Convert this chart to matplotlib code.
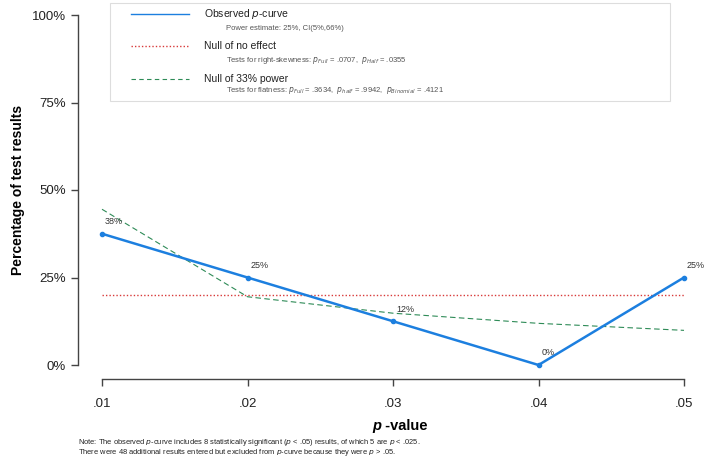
import numpy as np
import matplotlib
matplotlib.use('Agg')
import matplotlib.pyplot as plt
from matplotlib.patches import Rectangle

plt.rcParams['font.family'] = ['Liberation Sans', 'DejaVu Sans']

# datos
pvals = [0.01, 0.02, 0.03, 0.04, 0.05]
observado = [37.5, 25.0, 12.5, 0.0, 25.0]
etiquetas = ['38%', '25%', '12%', '0%', '25%']
nulo_sin_efecto = [20.0, 20.0, 20.0, 20.0, 20.0]
nulo_33 = [44.5, 19.5, 14.8, 11.9, 9.9]
yticks = [0, 25, 50, 75, 100]
yticklabels = ['0%', '25%', '50%', '75%', '100%']
xticklabels = ['.01', '.02', '.03', '.04', '.05']

azul = '#1C7FDF'
rojo = '#D83A3A'
verde = '#2E8B57'

W, H = 711, 462
fig = plt.figure(figsize=(W / 100, H / 100), dpi=100)
ax = fig.add_axes([102 / W, 1 - 365 / H, 582 / W, 350 / H])

ax.plot(pvals, nulo_sin_efecto, color=rojo, lw=1.0, ls=(0, (1, 1.5)), clip_on=False)
ax.plot(pvals, nulo_33, color=verde, lw=0.8, ls=(0, (5, 3)), clip_on=False)
ax.plot(pvals, observado, color=azul, lw=1.8, marker='o', ms=3, clip_on=False)
for x, y, t in zip(pvals, observado, etiquetas):
    ax.text(x + 0.0002, y + 2.2, t, fontsize=6.5, color='#333333', ha='left', va='bottom')

ax.set_xlim(0.01, 0.05)
ax.set_ylim(0, 100)
ax.set_xticks(pvals)
ax.set_xticklabels(xticklabels)
ax.set_yticks(yticks)
ax.set_yticklabels(yticklabels)
for s in ['top', 'right']:
    ax.spines[s].set_visible(False)
ax.spines['left'].set_position(('outward', 17))
ax.spines['bottom'].set_position(('outward', 10))
for s in ['left', 'bottom']:
    ax.spines[s].set_color('#444444')
    ax.spines[s].set_linewidth(1.0)
ax.tick_params(axis='both', colors='#444444', labelcolor='#222222', labelsize=9.5,
               length=5, width=1.0)
ax.tick_params(axis='x', pad=9)
ax.tick_params(axis='y', pad=4)
ax.patch.set_visible(False)

fig.text(18 / W, 1 - 190 / H, 'Percentage of test results', rotation=90,
         fontsize=10, fontweight='bold', ha='center', va='center')
fig.text(381 / W, 1 - 426 / H, 'p', fontsize=10.5, fontweight='bold', fontstyle='italic',
         ha='right', va='center')
fig.text(381 / W, 1 - 426 / H, ' -value', fontsize=10.5, fontweight='bold',
         ha='left', va='center')

# caja de la leyenda
fig.patches.append(Rectangle((110 / W, 1 - 101 / H), 560 / W, 98 / H,
                             transform=fig.transFigure, fill=False,
                             edgecolor='#dddddd', lw=0.8))
filas = [
    (14, azul, '-', 1.0, 'Observed $\\it{p}$-curve', 29,
     'Power estimate: 25%, CI(5%,66%)'),
    (46, rojo, (0, (1, 1.5)), 1.0, 'Null of no effect', 61,
     'Tests for right-skewness: $\\it{p}_{Full}$ = .0707,  $\\it{p}_{Half}$ = .0355'),
    (79, verde, (0, (4, 3)), 0.8, 'Null of 33% power', 91,
     'Tests for flatness: $\\it{p}_{Full}$ = .3634,  $\\it{p}_{half}$ = .9942,  $\\it{p}_{Binomial}$ = .4121'),
]
for yl, c, ls, lw, titulo, ys, sub in filas:
    fig.add_artist(plt.Line2D([131 / W, 189 / W], [1 - yl / H, 1 - yl / H],
                              color=c, ls=ls, lw=lw, transform=fig.transFigure))
    fig.text(204 / W, 1 - yl / H, titulo, fontsize=7.5, color='#222222', va='center')
    fig.text(226 / W, 1 - ys / H, sub, fontsize=5.5, color='#555555', va='center')

fig.text(78 / W, 1 - 442 / H,
         'Note: The observed $\\it{p}$-curve includes 8 statistically significant ($\\it{p}$ < .05) results, of which 5 are $\\it{p}$ < .025.',
         fontsize=5.4, color='#222222', va='center')
fig.text(78 / W, 1 - 452 / H,
         'There were 48 additional results entered but excluded from $\\it{p}$-curve because they were $\\it{p}$ > .05.',
         fontsize=5.4, color='#222222', va='center')

fig.savefig('out.png', dpi=100)
